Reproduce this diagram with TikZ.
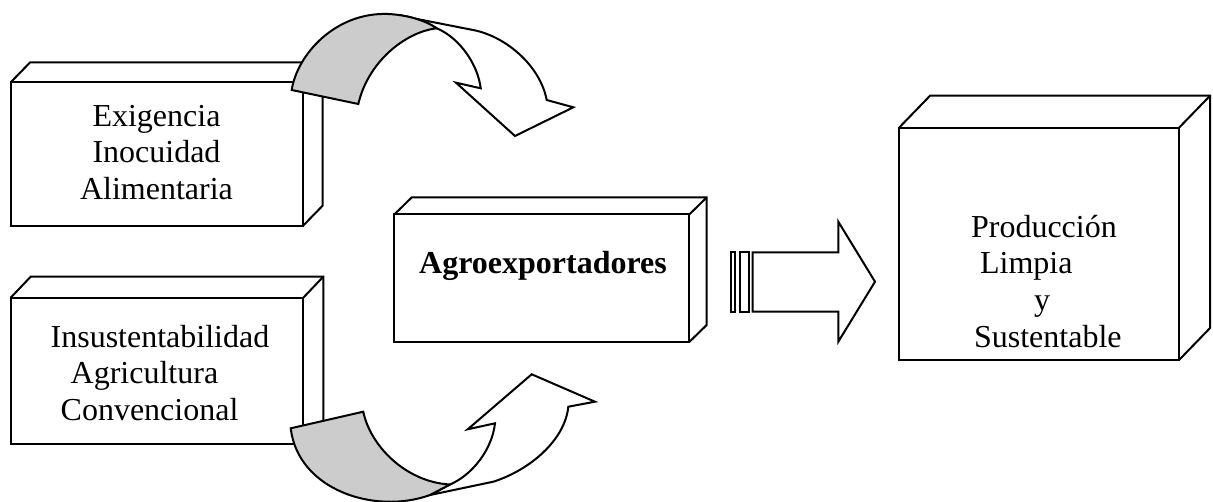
\documentclass[tikz,border=0pt]{standalone}
\usepackage{fontspec}
\setmainfont{Liberation Serif}
\usepackage{tikz}
\usetikzlibrary{calc}
\definecolor{gris}{gray}{0.8}
\newcommand{\letra}{\fontsize{16}{18.3}\selectfont}
\newcommand{\caras}[3]{%
\draw[line width=1pt] (#1.north west) -- ++(#2,-#3) -- ($(#1.north east)+(#2,-#3)$)
  -- ($(#1.south east)+(#2,-#3)$) -- (#1.south east);
\draw[line width=1pt] (#1.north east) -- ++(#2,-#3);}

\begin{document}
\begin{tikzpicture}[x=.5pt,y=-.5pt,
  caja/.style={draw,line width=1pt,inner sep=0pt,outer sep=0pt},
  texto/.style={font=\letra,inner sep=0pt}]
\useasboundingbox (0,0) rectangle (1213,502);
%cajas
\node[caja,minimum width=146.2pt,minimum height=71.7pt] (exig) at (156.9,154) {};
\node[caja,minimum width=146.3pt,minimum height=73.3pt] (insus) at (157,371) {};
\node[caja,minimum width=147.5pt,minimum height=63.75pt] (agro) at (541.8,278.2) {};
\node[caja,minimum width=140pt,minimum height=116.15pt] (prod) at (1039,243.9) {};
\caras{exig}{19.5}{20}
\caras{insus}{20}{21}
\caras{agro}{17.4}{17}
\caras{prod}{31}{32}
%textos
\node[texto,align=center] (exigtxt) at (156.5,152.5) {Exigencia\\Inocuidad\\Alimentaria};
\node[texto,align=left] (insustxt) at (160,373) {Insustentabilidad\\\hspace*{10pt}Agricultura\\\hspace*{5pt}Convencional};
\node[texto,anchor=base] (agrotxt) at (543,273.3) {\textbf{Agroexportadores}};
\node[texto,align=left] (prodtxt) at (1046.3,281.3) {Producción\\\hspace*{4.5pt}Limpia\\\hspace*{31.5pt}y\\\hspace*{1.5pt}Sustentable};
%flecha de bloque
\draw[line width=1pt] (730.7,252.3) rectangle (735,311.7);
\draw[line width=1pt] (740,252.3) rectangle (749,311.7);
\draw[line width=1pt] (752.7,252.3) -- (838.3,252.3) -- (838.3,221.7) -- (875,281.7)
  -- (838.3,341.7) -- (838.3,311.7) -- (752.7,311.7) -- cycle;
%flecha curva de arriba
\draw[line width=1pt,fill=white] (396.7,15) -- (473,30) .. controls (505,36) and (540,65) .. (546.7,100)
  -- (573.3,107.3) -- (515,136) -- (456,82.7) -- (480.7,88.3)
  .. controls (478,65) and (460,38) .. (436.7,28.3) .. controls (425,21) and (410,16) .. cycle;
\draw[line width=1pt,fill=gris] (291.7,90) .. controls (297,55) and (335,12) .. (388,14)
  .. controls (410,15) and (428,22) .. (436.7,28.3)
  .. controls (405,32) and (368,62) .. (358.3,104) -- cycle;
%flecha curva de abajo
\draw[line width=1pt,fill=white] (430,495) -- (493.3,481.7) .. controls (530,470) and (565,440) .. (568.3,406.7)
  -- (595,401.7) -- (531.7,374.3) -- (467.7,429.3) -- (495,423.3)
  .. controls (492,450) and (472,475) .. (450,484.5) -- cycle;
\draw[line width=1pt,fill=gris] (290.7,428.3) .. controls (298,490) and (375,515) .. (430,495)
  -- (450,484.5) .. controls (405,482) and (370,445) .. (363.3,411.7) -- cycle;
\end{tikzpicture}
\end{document}
